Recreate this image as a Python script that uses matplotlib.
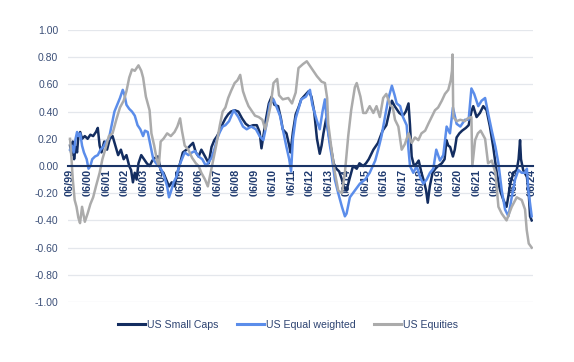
import matplotlib
matplotlib.use("Agg")
import matplotlib.pyplot as plt
import numpy as np

# ---------------- data (decimal years, correlation values) ----------------
small_t = [1999.50,1999.58,1999.65,1999.72,1999.80,1999.88,1999.95,2000.05,2000.15,2000.30,2000.45,2000.60,2000.75,2000.90,2001.00,
           2001.10,2001.20,2001.35,2001.50,2001.65,2001.80,2001.95,2002.10,2002.25,2002.40,2002.55,2002.70,2002.80,2002.90,2003.00,
           2003.10,2003.20,2003.35,2003.50,2003.65,2003.80,2003.95,2004.10,2004.25,2004.40,2004.55,2004.70,2004.85,2005.00,2005.15,
           2005.30,2005.45,2005.60,2005.80,2006.00,2006.15,2006.30,2006.45,2006.60,2006.80,2007.00,2007.15,2007.30,2007.45,2007.60,
           2007.75,2007.90,2008.05,2008.20,2008.40,2008.60,2008.80,2009.00,2009.20,2009.40,2009.60,2009.75,2009.85,2009.95,2010.10,
           2010.25,2010.40,2010.55,2010.75,2010.90,2011.00,2011.20,2011.35,2011.42,2011.55,2011.70,2011.85,2012.00,2012.20,2012.40,
           2012.55,2012.70,2012.85,2013.00,2013.10,2013.20,2013.35,2013.50,2013.65,2013.75,2013.90,2014.05,2014.20,2014.30,2014.45,
           2014.60,2014.80,2015.00,2015.15,2015.35,2015.50,2015.65,2015.90,2016.15,2016.40,2016.60,2016.75,2016.90,2017.05,2017.30,
           2017.50,2017.65,2017.80,2017.88,2017.97,2018.10,2018.25,2018.35,2018.50,2018.65,2018.75,2018.84,2018.95,2019.10,2019.25,
           2019.40,2019.60,2019.75,2019.85,2019.95,2020.05,2020.20,2020.30,2020.40,2020.55,2020.70,2020.90,2021.05,2021.20,2021.30,
           2021.48,2021.66,2021.84,2022.02,2022.20,2022.38,2022.57,2022.75,2022.93,2023.10,2023.20,2023.30,2023.47,2023.65,2023.75,
           2023.83,2023.88,2024.00,2024.20,2024.30,2024.37,2024.46]
small_v = [0.15,0.08,0.18,0.05,0.14,0.10,0.22,0.25,0.20,0.22,0.20,0.23,0.22,0.25,0.28,
           0.15,0.10,0.18,0.12,0.20,0.22,0.15,0.08,0.12,0.05,0.08,0.00,-0.03,-0.12,-0.05,
           -0.10,0.02,0.08,0.05,0.02,0.00,0.04,0.06,0.07,-0.03,-0.05,-0.10,-0.15,-0.12,-0.15,
           -0.05,0.02,0.10,0.12,0.15,0.17,0.10,0.07,0.12,0.07,0.02,0.14,0.19,0.22,0.26,
           0.31,0.35,0.38,0.40,0.41,0.40,0.35,0.31,0.29,0.30,0.30,0.25,0.13,0.22,0.35,
           0.46,0.51,0.45,0.44,0.35,0.27,0.24,0.15,0.10,0.25,0.38,0.43,0.49,0.52,0.55,
           0.51,0.40,0.20,0.09,0.15,0.24,0.35,0.22,0.10,0.02,-0.02,-0.04,-0.10,-0.15,-0.18,
           -0.10,0.00,-0.02,0.02,0.00,0.02,0.05,0.12,0.17,0.26,0.30,0.39,0.48,0.44,0.39,
           0.37,0.40,0.46,0.30,0.07,0.00,0.02,0.04,-0.05,-0.12,-0.18,-0.27,-0.15,-0.05,-0.02,
           0.00,0.02,0.05,0.19,0.15,0.14,0.07,0.12,0.21,0.24,0.26,0.28,0.30,0.40,0.44,
           0.36,0.39,0.44,0.41,0.29,0.14,-0.05,-0.18,-0.25,-0.30,-0.22,-0.13,-0.05,-0.03,0.05,
           0.19,0.05,-0.03,-0.08,-0.20,-0.37,-0.40]

equal_t = [1999.50,1999.60,1999.70,1999.80,1999.88,1999.95,2000.05,2000.15,2000.25,2000.40,2000.50,2000.60,2000.70,2000.85,2001.00,
           2001.15,2001.30,2001.45,2001.60,2001.75,2001.90,2002.05,2002.20,2002.35,2002.45,2002.55,2002.70,2002.85,2003.00,2003.15,
           2003.30,2003.45,2003.55,2003.70,2003.85,2004.00,2004.15,2004.30,2004.45,2004.60,2004.75,2004.85,2004.95,2005.10,2005.25,
           2005.40,2005.55,2005.70,2005.90,2006.10,2006.25,2006.45,2006.65,2006.85,2007.00,2007.15,2007.30,2007.45,2007.60,2007.75,
           2007.90,2008.10,2008.35,2008.60,2008.85,2009.05,2009.30,2009.55,2009.75,2009.95,2010.10,2010.30,2010.50,2010.65,2010.85,
           2011.00,2011.20,2011.35,2011.45,2011.55,2011.70,2011.85,2012.00,2012.25,2012.47,2012.60,2012.83,2013.00,2013.15,2013.28,
           2013.40,2013.55,2013.65,2013.82,2014.00,2014.20,2014.36,2014.45,2014.63,2014.90,2015.17,2015.45,2015.70,2016.00,2016.16,
           2016.34,2016.50,2016.70,2016.90,2017.05,2017.16,2017.35,2017.50,2017.70,2017.80,2017.88,2018.06,2018.24,2018.42,2018.60,
           2018.78,2018.96,2019.14,2019.30,2019.50,2019.68,2019.86,2020.04,2020.20,2020.40,2020.60,2020.85,2021.05,2021.20,2021.35,
           2021.57,2021.75,2021.94,2022.10,2022.30,2022.50,2022.66,2022.84,2023.02,2023.20,2023.38,2023.56,2023.74,2023.92,2024.10,
           2024.20,2024.28,2024.46]
equal_v = [0.12,0.15,0.10,0.20,0.25,0.22,0.24,0.15,0.10,0.05,-0.02,0.00,0.05,0.07,0.08,
           0.12,0.14,0.18,0.20,0.30,0.40,0.45,0.50,0.56,0.52,0.45,0.42,0.40,0.37,0.30,
           0.27,0.22,0.26,0.25,0.15,0.05,0.02,0.00,-0.03,-0.08,-0.15,-0.23,-0.19,-0.12,-0.08,
           0.00,0.05,0.10,0.08,0.10,0.11,0.07,0.05,0.00,0.03,0.06,0.12,0.20,0.25,0.29,
           0.30,0.33,0.41,0.36,0.29,0.27,0.29,0.27,0.22,0.19,0.29,0.46,0.49,0.44,0.37,
           0.27,0.14,0.05,-0.04,0.20,0.35,0.42,0.49,0.51,0.56,0.45,0.34,0.27,0.40,0.49,
           0.30,0.15,0.07,-0.10,-0.20,-0.30,-0.37,-0.35,-0.23,-0.18,-0.13,-0.10,-0.05,0.04,0.12,
           0.22,0.34,0.49,0.59,0.52,0.46,0.44,0.36,0.30,0.12,0.00,-0.05,0.00,-0.08,-0.13,
           -0.10,-0.05,-0.02,0.12,0.04,0.08,0.29,0.24,0.43,0.31,0.29,0.34,0.34,0.57,0.53,
           0.44,0.48,0.50,0.39,0.26,0.14,0.02,-0.18,-0.32,-0.37,-0.23,-0.10,-0.03,-0.05,-0.05,
           -0.02,-0.18,-0.37]

equities_t = [1999.50,1999.58,1999.65,1999.75,1999.85,1999.95,2000.04,2000.15,2000.30,2000.45,2000.60,2000.75,2000.90,2001.10,2001.25,
              2001.40,2001.60,2001.80,2002.00,2002.20,2002.40,2002.55,2002.70,2002.85,2003.00,2003.20,2003.35,2003.45,2003.60,2003.80,
              2003.90,2004.05,2004.20,2004.30,2004.40,2004.55,2004.75,2004.95,2005.15,2005.30,2005.45,2005.55,2005.70,2005.90,2006.10,
              2006.30,2006.45,2006.60,2006.80,2006.95,2007.10,2007.25,2007.40,2007.60,2007.75,2007.90,2008.05,2008.20,2008.40,2008.55,
              2008.70,2008.85,2009.00,2009.15,2009.35,2009.50,2009.70,2009.90,2010.05,2010.20,2010.35,2010.50,2010.70,2010.80,2011.00,
              2011.30,2011.50,2011.70,2011.85,2012.10,2012.30,2012.50,2012.70,2012.85,2013.10,2013.28,2013.40,2013.46,2013.64,2013.82,
              2014.00,2014.20,2014.36,2014.54,2014.70,2014.90,2015.00,2015.20,2015.35,2015.50,2015.70,2015.90,2016.07,2016.25,2016.43,
              2016.60,2016.80,2016.95,2017.07,2017.25,2017.43,2017.60,2017.80,2017.97,2018.15,2018.33,2018.50,2018.70,2018.87,2019.05,
              2019.23,2019.40,2019.60,2019.77,2019.95,2020.08,2020.15,2020.18,2020.22,2020.40,2020.60,2020.85,2021.00,2021.20,2021.25,
              2021.40,2021.55,2021.70,2021.94,2022.10,2022.30,2022.50,2022.66,2022.84,2023.10,2023.38,2023.65,2023.92,2024.10,2024.19,
              2024.30,2024.46]
equities_v = [0.20,0.05,-0.10,-0.25,-0.30,-0.38,-0.42,-0.30,-0.41,-0.35,-0.28,-0.23,-0.15,-0.05,0.05,
              0.12,0.22,0.24,0.34,0.43,0.48,0.55,0.65,0.71,0.70,0.74,0.70,0.65,0.51,0.41,
              0.24,0.15,0.04,0.00,0.18,0.20,0.24,0.22,0.25,0.29,0.35,0.26,0.15,0.12,0.06,
              0.02,0.00,-0.05,-0.10,-0.15,-0.05,0.05,0.15,0.30,0.40,0.43,0.50,0.55,0.61,0.63,
              0.67,0.55,0.49,0.44,0.40,0.37,0.36,0.34,0.27,0.35,0.45,0.61,0.64,0.52,0.49,
              0.50,0.46,0.54,0.72,0.75,0.77,0.73,0.69,0.66,0.62,0.61,0.50,0.31,0.12,-0.05,
              -0.18,-0.20,-0.05,0.22,0.41,0.58,0.61,0.51,0.39,0.39,0.44,0.39,0.44,0.36,0.50,
              0.53,0.45,0.43,0.34,0.29,0.12,0.16,0.24,0.17,0.21,0.19,0.24,0.26,0.31,0.36,
              0.41,0.43,0.48,0.53,0.56,0.63,0.70,0.82,0.36,0.33,0.34,0.33,0.35,0.36,0.00,
              0.19,0.24,0.26,0.20,0.02,0.04,-0.05,-0.30,-0.35,-0.40,-0.30,-0.23,-0.25,-0.32,-0.47,
              -0.57,-0.60]

tick_years = list(range(1999, 2025))
tick_labels = ["06/%02d" % (y % 100) for y in tick_years]
y_ticks = [-1.0, -0.8, -0.6, -0.4, -0.2, 0.0, 0.2, 0.4, 0.6, 0.8, 1.0]

series_names = ["US Small Caps", "US Equal weighted", "US Equities"]
series_colors = ["#132D60", "#5B8DEA", "#ABABAB"]

# ---------------- figure ----------------
plt.rcParams['font.family'] = ['Liberation Sans', 'DejaVu Sans']
fig = plt.figure(figsize=(5.74, 3.62), dpi=100)
ax = fig.add_axes([68/574, 1-302/362, (533-68)/574, (302-30)/362])

for t, v, name, col, z in zip([small_t, equal_t, equities_t],
                              [small_v, equal_v, equities_v],
                              series_names, series_colors, [3, 4, 5]):
    ax.plot(t, v, color=col, lw=1.8, label=name, zorder=z, solid_joinstyle='round')

ax.set_xlim(1999.39, 2024.53)
ax.set_ylim(-1.0, 1.0)
ax.set_yticks(y_ticks)
ax.set_yticklabels(["%.2f" % y for y in y_ticks])
ax.yaxis.grid(True, color="#E4E7EC", lw=0.9)
ax.set_axisbelow(True)
for s in ['left', 'right', 'top']:
    ax.spines[s].set_visible(False)
ax.spines['bottom'].set_position(('data', 0))
ax.spines['bottom'].set_color("#1A3466")
ax.spines['bottom'].set_linewidth(1.5)
ax.spines['bottom'].set_zorder(6)

ax.set_xticks([y + 0.47 for y in tick_years])
ax.set_xticklabels(tick_labels, rotation=90, fontsize=7.8, fontweight='bold', color="#1F3A6E")
ax.tick_params(axis='x', length=0, pad=2)
ax.tick_params(axis='y', length=0, pad=7, labelsize=7.5, labelcolor="#3B4F78")
for lab in ax.get_xticklabels():
    lab.set_zorder(7)

leg = fig.legend(*ax.get_legend_handles_labels(), loc='center', bbox_to_anchor=(0.502, 0.102),
                 ncol=3, frameon=False, fontsize=7.6, handlelength=2.5, handletextpad=0.2,
                 columnspacing=1.8, labelcolor="#2E4472")
for h in leg.get_lines():
    h.set_linewidth(2.2)

fig.savefig("out.png", dpi=100)
